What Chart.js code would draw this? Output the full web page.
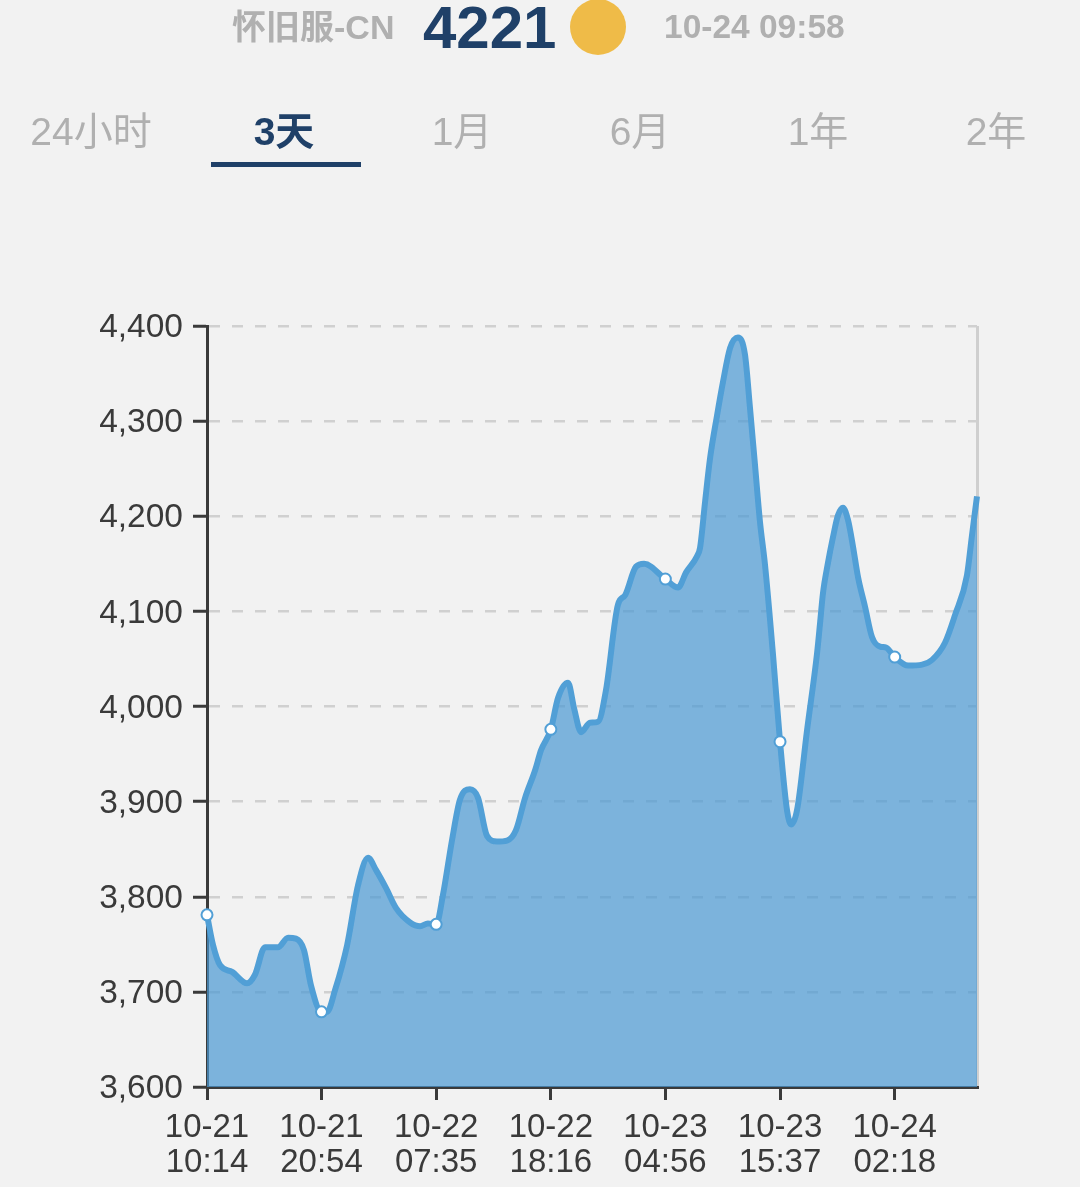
<!DOCTYPE html>
<html lang="zh">
<head>
<meta charset="utf-8">
<title>怀旧服-CN</title>
<script src="https://cdn.jsdelivr.net/npm/chart.js@4"></script>
<style>
    html, body { margin: 0; padding: 0; background: #f2f2f2; overflow: hidden; }
    body { position: relative; width: 1080px; height: 1187px; font-family: "Liberation Sans", "Noto Sans CJK SC", sans-serif; }
    canvas { position: absolute; left: 0; top: 0; }
    .head { position: absolute; white-space: nowrap; line-height: 1; z-index: 2; }
    #server { left: 232px; top: 10px; font-size: 34px; font-weight: 700; color: #b0b0b0; }
    #count { left: 423px; top: -2px; font-size: 60px; font-weight: 700; color: #1f4068; }
    #dot { left: 570px; top: -1px; width: 56px; height: 56px; border-radius: 50%; background: #efbb48; }
    #time { left: 664px; top: 10px; font-size: 33.5px; font-weight: 700; color: #b0b0b0; }
    #tabs { position: absolute; left: 2px; top: 110px; display: flex; z-index: 2; }
    #tabs span { width: 178px; text-align: center; font-size: 39px; line-height: 44px; color: #b0b0b0; }
    #tabs span:first-child { margin-right: 15px; }
    #tabs span.active { color: #1f4068; font-weight: 700; }
    #tabLine { left: 211px; top: 162px; width: 150px; height: 5px; background: #1f4068; }
</style>
</head>
<body>
<div class="head" id="server">怀旧服-CN</div>
<div class="head" id="count">4221</div>
<div class="head" id="dot"></div>
<div class="head" id="time">10-24 09:58</div>
<div id="tabs"></div>
<div class="head" id="tabLine"></div>
<canvas id="playerChart" width="1080" height="1187"></canvas>
<script>
// Data
const tabLabels = ['24小时', '3天', '1月', '6月', '1年', '2年'];
const activeTab = '3天';

// minutes since 10-21 10:14
const minutes = [
    0, 34, 73, 140, 224, 268, 324, 397, 453, 497, 542, 581, 640, 671, 716, 783, 844, 900, 945, 1001,
    1057, 1135, 1191, 1235, 1281, 1319, 1370, 1414, 1470, 1515, 1565, 1621, 1677, 1727, 1778, 1834, 1867, 1922, 1962, 2018,
    2052, 2091, 2141, 2186, 2230, 2297, 2337, 2398, 2443, 2562, 2633, 2678, 2739, 2756, 2784, 2812, 2851, 2884, 2924, 2968,
    3007, 3035, 3063, 3091, 3119, 3164, 3203, 3242, 3265, 3298, 3354, 3410, 3427, 3443, 3471, 3499, 3527, 3555, 3583, 3611,
    3639, 3678, 3717, 3762, 3796, 3844, 3919, 3997, 4053, 4125, 4181, 4248, 4276, 4304
];
const players = [
    3781, 3749, 3728, 3721, 3709, 3718, 3747, 3747, 3757, 3756, 3744, 3707, 3679, 3679, 3702, 3749, 3812, 3841, 3828, 3809,
    3788, 3773, 3769, 3772, 3771, 3802, 3860, 3902, 3913, 3904, 3864, 3858, 3859, 3870, 3904, 3933, 3954, 3976, 4009, 4025,
    3998, 3973, 3983, 3984, 4017, 4107, 4117, 4147, 4150, 4134, 4125, 4141, 4158, 4167, 4215, 4261, 4306, 4341, 4377, 4388,
    4370, 4314, 4254, 4194, 4149, 4054, 3963, 3891, 3876, 3891, 3975, 4056, 4088, 4119, 4151, 4178, 4201, 4209, 4196, 4168,
    4136, 4105, 4073, 4063, 4062, 4052, 4043, 4044, 4049, 4067, 4096, 4138, 4180, 4221
];

// x axis ticks, minutes since start, with their date and time lines
const tickMinutes = [0, 640, 1281, 1922, 2562, 3203, 3844];
const tickDates = ['10-21', '10-21', '10-22', '10-22', '10-23', '10-23', '10-24'];
const tickTimes = ['10:14', '20:54', '07:35', '18:16', '04:56', '15:37', '02:18'];
const endMinute = 4304;

// Tabs
const tabsEl = document.getElementById('tabs');
tabLabels.forEach(label => {
    const tab = document.createElement('span');
    tab.textContent = label;
    if (label === activeTab) tab.className = 'active';
    tabsEl.appendChild(tab);
});

const axisColor = '#3a3a3a';
const fontFamily = '"Liberation Sans", sans-serif';

// Chart
new Chart(document.getElementById('playerChart'), {
    type: 'line',
    data: {
        datasets: [{
            data: minutes.map((m, i) => ({ x: m, y: players[i] })),
            borderColor: '#519fd6',
            borderWidth: 6,
            backgroundColor: 'rgba(74, 152, 211, 0.7)',
            fill: 'origin',
            cubicInterpolationMode: 'monotone',
            clip: false,
            pointRadius: ctx => tickMinutes.includes(minutes[ctx.dataIndex]) ? 5.5 : 0,
            pointBackgroundColor: '#ffffff',
            pointBorderColor: '#519fd6',
            pointBorderWidth: 2
        }]
    },
    options: {
        responsive: false,
        devicePixelRatio: 1,
        animation: false,
        layout: { padding: { top: 326, right: 103, left: 0, bottom: 0 } },
        plugins: { legend: { display: false }, tooltip: { enabled: false } },
        scales: {
            x: {
                type: 'linear',
                min: 0,
                max: endMinute,
                afterFit: scale => { scale.height = 100; },
                afterBuildTicks: scale => {
                    scale.ticks = tickMinutes.concat(endMinute).map(v => ({ value: v }));
                },
                border: { color: axisColor, width: 3 },
                grid: {
                    drawTicks: true,
                    tickLength: 13,
                    tickWidth: 3,
                    lineWidth: 3,
                    color: ctx => ctx.tick && ctx.tick.value === endMinute ? '#cfcfcf' : 'rgba(0,0,0,0)',
                    tickColor: ctx => ctx.tick && ctx.tick.value === endMinute ? 'rgba(0,0,0,0)' : axisColor
                },
                ticks: {
                    autoSkip: false,
                    maxRotation: 0,
                    padding: 11,
                    color: axisColor,
                    font: { family: fontFamily, size: 33, lineHeight: 1.05 },
                    callback: value => {
                        const i = tickMinutes.indexOf(value);
                        return i < 0 ? '' : [tickDates[i], tickTimes[i]];
                    }
                }
            },
            y: {
                min: 3600,
                max: 4400,
                afterFit: scale => { scale.width = 207; },
                border: { color: axisColor, width: 3, dash: [11, 12] },
                grid: {
                    color: '#d0d0d0',
                    lineWidth: 2.5,
                    tickLength: 14,
                    tickWidth: 3,
                    tickColor: axisColor
                },
                ticks: {
                    stepSize: 100,
                    padding: 10,
                    labelOffset: 2,
                    color: axisColor,
                    font: { family: fontFamily, size: 33.5 },
                    callback: value => value.toLocaleString('en-US')
                }
            }
        }
    }
});
</script>
</body>
</html>
